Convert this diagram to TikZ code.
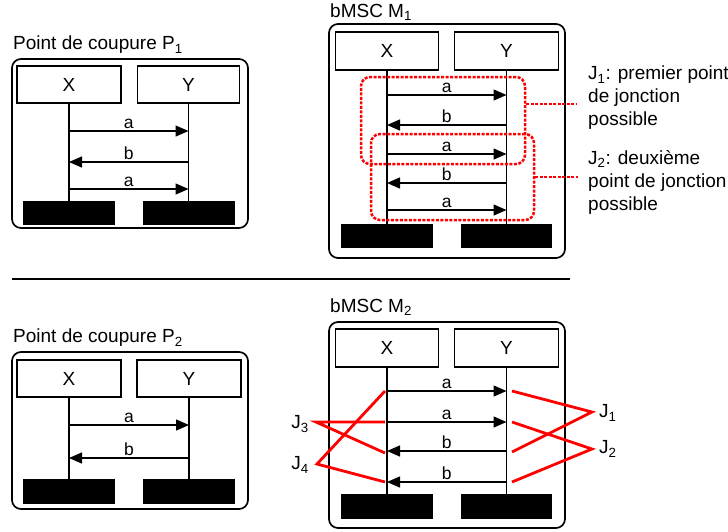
\documentclass[tikz,border=0pt]{standalone}
\usepackage{fontspec}
\setmainfont{Liberation Sans}
\usetikzlibrary{arrows.meta, positioning}

\begin{document}
\begin{tikzpicture}[x=1pt, y=-1pt,
    title/.style={anchor=west, inner sep=0pt, font=\fontsize{19}{23}\selectfont},
    frame/.style={draw, line width=1.7pt, rounded corners=9pt},
    inst/.style={draw, line width=1.6pt, minimum height=37pt, inner sep=0pt, font=\fontsize{19}{23}\selectfont},
    bar/.style={fill=black, minimum width=92pt, minimum height=24pt, inner sep=0pt},
    life/.style={line width=1.4pt},
    msg/.style={line width=1.4pt, -{Triangle[length=13pt,width=11pt]}},
    lbl/.style={above=1.5pt, inner sep=0pt, font=\fontsize{17.5}{20}\selectfont},
    jbox/.style={draw=red, line width=2.5pt, dash pattern=on 3pt off 1.5pt, rounded corners=9pt, inner sep=0pt},
    jdot/.style={draw=red, line width=2.5pt, dash pattern=on 3pt off 1.5pt},
    jline/.style={draw=red, line width=2.8pt},
    jtext/.style={inner sep=0pt, align=left, font=\fontsize{19}{23}\selectfont}]
    \useasboundingbox (0,0) rectangle (728,531);

    % Point de coupure P1
    \node[title] (ptitle1) at (13,45) {Point de coupure P\textsubscript{1}};
    \draw[frame] (12,59) rectangle (248,228);
    \node[inst, minimum width=104pt] (x1) at (69,84.5) {X};
    \node[inst, minimum width=102pt] (y1) at (188.5,84.5) {Y};
    \node[bar] (xend1) at (69,213) {};
    \node[bar] (yend1) at (188.5,213) {};
    \draw[life] (x1) -- (xend1);
    \draw[life] (y1) -- (yend1);
    \foreach \yy/\m/\s/\e in {131/a/x1/y1, 162/b/y1/x1, 189/a/x1/y1}
        \draw[msg] (\s |- 0,\yy) -- node[lbl] {\m} (\e |- 0,\yy);

    % bMSC M1
    \node[title] (mtitle1) at (330,12) {bMSC M\textsubscript{1}};
    \draw[frame] (329,24) rectangle (565,258);
    \node[inst, minimum width=103pt, minimum height=38pt] (x2) at (387,51) {X};
    \node[inst, minimum width=104pt, minimum height=38pt] (y2) at (506.5,51) {Y};
    \node[bar] (xend2) at (387,236) {};
    \node[bar, minimum width=91pt] (yend2) at (506.5,236) {};
    \draw[life] (x2) -- (xend2);
    \draw[life] (y2) -- (yend2);
    \foreach \yy/\m/\s/\e in {95/a/x2/y2, 125/b/y2/x2, 154/a/x2/y2, 183/b/y2/x2, 210/a/x2/y2}
        \draw[msg] (\s |- 0,\yy) -- node[lbl] {\m} (\e |- 0,\yy);

    \node[jbox, minimum width=164pt, minimum height=87pt] (jone) at (443,120.5) {};
    \node[jbox, minimum width=163pt, minimum height=86pt] (jtwo) at (452.5,177) {};
    \node[jtext, anchor=west] (jonetext) at (588,98) {J\textsubscript{1}: premier point\\de jonction\\possible};
    \node[jtext, anchor=west] (jtwotext) at (588,182) {J\textsubscript{2}: deuxième\\point de jonction\\possible};
    \coordinate (jonetip) at (577,104);
    \coordinate (jtwotip) at (578,177);
    \draw[jdot] (jone.east |- jonetip) -- (jonetip);
    \draw[jdot] (jtwo.east) -- (jtwotip);

    % separation
    \draw[line width=1.5pt] (12,279) -- (570,279);

    % Point de coupure P2
    \node[title] (ptitle2) at (13,338) {Point de coupure P\textsubscript{2}};
    \draw[frame] (12,352) rectangle (248,509);
    \node[inst, minimum width=104pt] (x3) at (69,378.5) {X};
    \node[inst, minimum width=104pt] (y3) at (189,378.5) {Y};
    \node[bar, minimum height=25pt] (xend3) at (69,491.5) {};
    \node[bar, minimum height=25pt] (yend3) at (189,491.5) {};
    \draw[life] (x3) -- (xend3);
    \draw[life] (y3) -- (yend3);
    \foreach \yy/\m/\s/\e in {425/a/x3/y3, 458/b/y3/x3}
        \draw[msg] (\s |- 0,\yy) -- node[lbl] {\m} (\e |- 0,\yy);

    % bMSC M2
    \node[title] (mtitle2) at (330,307) {bMSC M\textsubscript{2}};
    \draw[frame] (329,322) rectangle (565,528);
    \node[inst, minimum width=103pt, minimum height=38pt] (x4) at (387,348) {X};
    \node[inst, minimum width=104pt, minimum height=38pt] (y4) at (506.5,348) {Y};
    \node[bar, minimum height=25pt] (xend4) at (387,506.5) {};
    \node[bar, minimum height=25pt, minimum width=91pt] (yend4) at (506.5,506.5) {};
    \draw[life] (x4) -- (xend4);
    \draw[life] (y4) -- (yend4);
    \foreach \yy/\m/\s/\e in {391/a/x4/y4, 422/a/x4/y4, 451/b/y4/x4, 482/b/y4/x4}
        \draw[msg] (\s |- 0,\yy) -- node[lbl] {\m} (\e |- 0,\yy);

    % points de jonction
    \node[jtext, anchor=east] (jthree) at (309,424) {J\textsubscript{3}};
    \node[jtext, anchor=east] (jfour) at (309,465) {J\textsubscript{4}};
    \node[jtext, anchor=west] (jonept) at (599,413) {J\textsubscript{1}};
    \node[jtext, anchor=west] (jtwopt) at (599,449) {J\textsubscript{2}};
    \coordinate (c3) at (316,422);
    \coordinate (c4) at (317,464);
    \coordinate (c1) at (592,412);
    \coordinate (c2) at (592,449);
    \coordinate (la) at (385,391);
    \coordinate (lb) at (385,422);
    \coordinate (lc) at (385,453);
    \coordinate (ld) at (385,482);
    \coordinate (ra) at (512,391);
    \coordinate (rb) at (512,422);
    \coordinate (rc) at (512,452);
    \coordinate (rd) at (512,482);
    \draw[jline] (lb) -- (c3) -- (lc);
    \draw[jline] (la) -- (c4) -- (ld);
    \draw[jline] (ra) -- (c1) -- (rc);
    \draw[jline] (rb) -- (c2) -- (rd);
\end{tikzpicture}
\end{document}
